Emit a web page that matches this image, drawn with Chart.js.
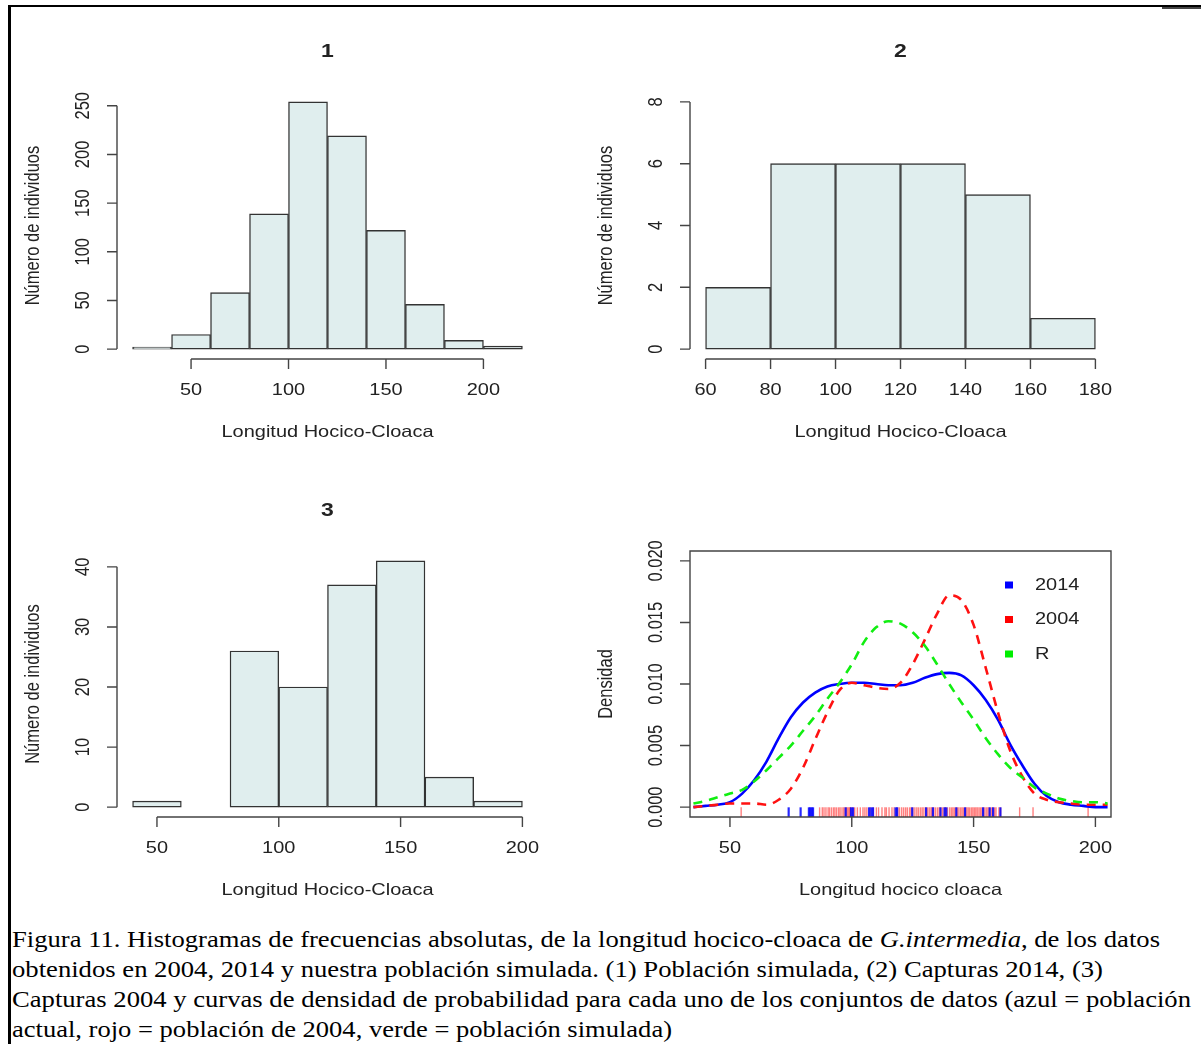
<!DOCTYPE html>
<html>
<head>
<meta charset="utf-8">
<script src="https://cdn.jsdelivr.net/npm/chart.js@4.4.0/dist/chart.umd.min.js"></script>
<style>
html, body { margin: 0; padding: 0; background: #fff; }
#page { position: relative; width: 1201px; height: 1044px; overflow: hidden; background: #fff; }
#page canvas { position: absolute; left: 0; top: 0; }
.frameTop { position: absolute; left: 8px; top: 5px; width: 1193px; height: 2px; background: #000; }
.frameTop2 { position: absolute; left: 1162px; top: 7px; width: 39px; height: 2px; background: #444; }
.frameLeft { position: absolute; left: 8px; top: 5px; width: 2.5px; height: 1039px; background: #000; }
.cap { position: absolute; left: 12px; font-family: "Liberation Serif", Tinos, "Times New Roman", Times, "Nimbus Roman", serif;
       font-size: 23px; line-height: 30px; white-space: nowrap; color: #000; transform-origin: 0 0; }
</style>
</head>
<body>
<div id="page">
  <div class="frameTop"></div>
  <div class="frameTop2"></div>
  <div class="frameLeft"></div>
  <canvas id="h1" width="1201" height="915"></canvas>
  <canvas id="h2" width="1201" height="915"></canvas>
  <canvas id="h3" width="1201" height="915"></canvas>
  <canvas id="d4" width="1201" height="915"></canvas>
  <div class="cap" id="c1" data-end="1160" style="top:925px">Figura 11. Histogramas de frecuencias absolutas, de la longitud hocico-cloaca de <i>G.intermedia</i>, de los datos</div>
  <div class="cap" id="c2" data-end="1103" style="top:955px">obtenidos en 2004, 2014 y nuestra población simulada. (1) Población simulada, (2) Capturas 2014, (3)</div>
  <div class="cap" id="c3" data-end="1191" style="top:985px">Capturas 2004 y curvas de densidad de probabilidad para cada uno de los conjuntos de datos (azul = población</div>
  <div class="cap" id="c4" data-end="672" style="top:1015px">actual, rojo = población de 2004, verde = población simulada)</div>
</div>
<script>
// ---- data ----
// 1: simulated population
var mids1 = [30, 50, 70, 90, 110, 130, 150, 170, 190, 210];
var counts1 = [2, 15, 58, 139, 254, 219, 122, 46, 9, 3];
var xTicks1 = [50, 100, 150, 200];
var yTicks1 = [0, 50, 100, 150, 200, 250];

// 2: captures 2014
var mids2 = [70, 90, 110, 130, 150, 170];
var counts2 = [2, 6, 6, 6, 5, 1];
var xTicks2 = [60, 80, 100, 120, 140, 160, 180];
var yTicks2 = [0, 2, 4, 6, 8];

// 3: captures 2004
var mids3 = [50, 70, 90, 110, 130, 150, 170, 190];
var counts3 = [1, 0, 26, 20, 37, 41, 5, 1];
var xTicks3 = [50, 100, 150, 200];
var yTicks3 = [0, 10, 20, 30, 40];

// 4: density curves
var densX = [35, 40, 45, 50, 55, 60, 65, 70, 75, 80, 85, 90, 95, 100, 105, 110, 115, 120,
             125, 130, 135, 140, 145, 150, 155, 160, 165, 170, 175, 180, 185, 190, 195, 200, 205];
var dens2014 = [0.0000, 0.0001, 0.0002, 0.0004, 0.0011, 0.0022, 0.0037, 0.0056, 0.0073, 0.0085, 0.0093, 0.0098,
                0.0100, 0.0101, 0.0101, 0.0100, 0.0099, 0.0099, 0.0101, 0.0105, 0.0108, 0.0109, 0.0107, 0.0099,
                0.0087, 0.0071, 0.0051, 0.0034, 0.0019, 0.0009, 0.0004, 0.0002, 0.0001, 0.0000, 0.0000];
var dens2004 = [0.0000, 0.0001, 0.0002, 0.0003, 0.0003, 0.0003, 0.0002, 0.0006, 0.0015, 0.0032, 0.0055, 0.0077,
                0.0095, 0.0101, 0.0099, 0.0097, 0.0096, 0.0101, 0.0116, 0.0136, 0.0157, 0.0172, 0.0168, 0.0148,
                0.0113, 0.0077, 0.0046, 0.0025, 0.0011, 0.0006, 0.0004, 0.0003, 0.0002, 0.0002, 0.0002];
var densR = [0.0003, 0.0005, 0.0008, 0.0011, 0.0014, 0.0021, 0.0030, 0.0040, 0.0050, 0.0062, 0.0074, 0.0088,
             0.0101, 0.0116, 0.0134, 0.0146, 0.0151, 0.0149, 0.0142, 0.0131, 0.0116, 0.0100, 0.0085, 0.0071,
             0.0056, 0.0043, 0.0032, 0.0024, 0.0016, 0.0011, 0.0007, 0.0005, 0.0004, 0.0004, 0.0003];
var rug2014 = [74.1, 79.0, 82.4, 83.0, 83.5, 84.1, 97.5, 99.7, 100.5, 107.1, 108.0, 108.7, 118.0, 118.6,
               124.8, 130.5, 133.3, 136.4, 138.1, 138.8, 142.9, 146.5, 153.9, 156.6, 158.0, 161.0];
var rug2004 = [54.6,
  86.8, 87.9, 88.6, 89.4, 90.3, 90.9, 91.7, 92.5, 93.1, 93.8, 94.6, 95.2, 96.0, 96.7, 97.3, 97.9, 98.4, 98.9, 99.3, 99.6,
  100.4, 101.2, 102.3, 103.5, 104.6, 105.4, 106.2, 107.5, 108.9, 110.1, 111.0, 112.4, 113.6, 114.2, 115.3, 116.5, 117.4, 118.9, 119.6,
  120.5, 121.3, 122.1, 122.8, 123.7, 124.3, 125.1, 125.9, 126.7, 127.4, 128.2, 128.9, 129.6, 130.4, 131.1, 131.8, 132.5, 133.0,
  133.7, 134.4, 135.2, 135.9, 136.5, 137.2, 137.9, 138.5, 139.3,
  140.2, 140.9, 141.5, 142.1, 142.8, 143.4, 144.0, 144.7, 145.3, 145.9, 146.6, 147.2, 147.8, 148.4, 149.1, 149.7,
  150.3, 150.9, 151.5, 152.2, 152.8, 153.4, 154.1, 154.7, 155.4, 156.0, 156.6, 157.3, 157.9, 158.6, 159.2,
  160.4, 161.1, 168.9, 174.4, 197.0];
var xTicks4 = [50, 100, 150, 200];
var yTicks4 = [0, 0.005, 0.010, 0.015, 0.020];
var legendLabels = ['2014', '2004', 'R'];
var legendColors = ['#0000ff', '#ff0000', '#00ee00'];

// ---- R-like look ----
var SX = 1.21;   // the source image is stretched sideways
var FONT = '"Liberation Sans", Arimo, Helvetica, Arial, sans-serif';
var BAR_FILL = '#e0eeee';
var BAR_EDGE = '#333333';

function stretchText(ctx, s, x, y, rot, font, align) {
	ctx.save();
	ctx.translate(x, y);
	ctx.scale(SX, 1);
	if (rot) ctx.rotate(-Math.PI / 2);
	ctx.font = font;
	ctx.textAlign = align || 'center';
	ctx.textBaseline = 'middle';
	ctx.fillText(s, 0, 0);
	ctx.restore();
}

var rAxes = {
	id: 'rAxes',
	afterDraw: function(chart) {
		var o = chart.options.plugins.rAxes;
		var ctx = chart.ctx, a = chart.chartArea;
		var xs = chart.scales.x, ys = chart.scales.y;
		var f = '16.5px ' + FONT;
		var xp = o.xTicks.map(function(v) { return xs.getPixelForValue(v); });
		var yp = o.yTicks.map(function(v) { return ys.getPixelForValue(v); });
		ctx.save();
		ctx.strokeStyle = '#444';
		ctx.lineWidth = 1.4;
		ctx.beginPath();
		ctx.moveTo(xp[0], a.bottom); ctx.lineTo(xp[xp.length - 1], a.bottom);
		xp.forEach(function(p) { ctx.moveTo(p, a.bottom); ctx.lineTo(p, a.bottom + 10); });
		ctx.moveTo(a.left, yp[0]); ctx.lineTo(a.left, yp[yp.length - 1]);
		yp.forEach(function(p) { ctx.moveTo(a.left, p); ctx.lineTo(a.left - 10, p); });
		if (o.box) ctx.rect(a.left, a.top, a.right - a.left, a.bottom - a.top);
		ctx.stroke();

		ctx.fillStyle = '#222';
		o.xTicks.forEach(function(v, i) { stretchText(ctx, String(v), xp[i], a.bottom + 31, false, f); });
		o.yTicks.forEach(function(v, i) {
			stretchText(ctx, o.yDigits ? v.toFixed(o.yDigits) : String(v), a.left - 34, yp[i], true, f);
		});
		var cx = (a.left + a.right) / 2, cy = (a.top + a.bottom) / 2;
		if (o.title) stretchText(ctx, o.title, cx, a.top - 40, false, 'bold 19px ' + FONT);
		stretchText(ctx, o.xlab, cx, a.bottom + 73, false, f);
		stretchText(ctx, o.ylab, a.left - 84, cy, true, f);

		if (o.legend) {
			legendLabels.forEach(function(lab, i) {
				var ly = a.top + 34 + i * 34.5;
				ctx.fillStyle = legendColors[i];
				ctx.fillRect(a.right - 106, ly - 3.5, 8, 7);
				ctx.fillStyle = '#222';
				stretchText(ctx, lab, a.right - 76, ly, false, f, 'left');
			});
		}
		ctx.restore();
	}
};

function baseOptions(pad, xmin, xmax, ymin, ymax, axes) {
	return {
		responsive: false,
		animation: false,
		devicePixelRatio: 1,
		events: [],
		layout: { padding: pad },
		scales: {
			x: { type: 'linear', min: xmin, max: xmax, offset: false, display: false },
			y: { type: 'linear', min: ymin, max: ymax, display: false }
		},
		plugins: { legend: { display: false }, tooltip: { enabled: false }, rAxes: axes }
	};
}

// chart area of each panel on the page: left, right, top, bottom
function pad(l, r, t, b) { return { left: l, right: 1201 - r, top: t, bottom: 915 - b }; }

function histChart(id, mids, counts, p, xmin, xmax, ymax, axes) {
	var ext = ymax * 0.04;
	return new Chart(document.getElementById(id), {
		type: 'bar',
		data: {
			datasets: [{
				data: mids.map(function(m, i) { return { x: m, y: counts[i] }; }),
				backgroundColor: BAR_FILL,
				borderColor: BAR_EDGE,
				borderWidth: 1.4,
				borderSkipped: false,
				barPercentage: 1,
				categoryPercentage: 1
			}]
		},
		options: baseOptions(p, xmin, xmax, -ext, ymax + ext, axes),
		plugins: [rAxes]
	});
}

histChart('h1', mids1, counts1, pad(117, 538, 92, 359), 12, 228, 254,
	{ xTicks: xTicks1, yTicks: yTicks1, title: '1', xlab: 'Longitud Hocico-Cloaca', ylab: 'Número de individuos' });
histChart('h2', mids2, counts2, pad(690, 1111, 92, 359), 55.2, 184.8, 8,
	{ xTicks: xTicks2, yTicks: yTicks2, title: '2', xlab: 'Longitud Hocico-Cloaca', ylab: 'Número de individuos' });
histChart('h3', mids3, counts3, pad(117, 538, 551, 817), 33.6, 206.4, 41,
	{ xTicks: xTicks3, yTicks: yTicks3, title: '3', xlab: 'Longitud Hocico-Cloaca', ylab: 'Número de individuos' });

function curve(vals, color, dash, width) {
	return {
		data: densX.map(function(x, i) { return { x: x, y: vals[i] }; }),
		borderColor: color,
		borderWidth: width,
		borderDash: dash,
		pointRadius: 0,
		fill: false,
		cubicInterpolationMode: 'monotone'
	};
}
function rug(vals, color, width) {
	return {
		data: vals.map(function(v) { return { x: v, y: -0.00042 }; }),
		showLine: false,
		pointStyle: 'line',
		pointRotation: 90,
		pointRadius: 5,
		pointBorderColor: color,
		pointBorderWidth: width,
		pointBackgroundColor: color
	};
}

new Chart(document.getElementById('d4'), {
	type: 'line',
	data: {
		datasets: [
			curve(densR, '#11ee11', [9, 7], 2.6),
			curve(dens2004, '#ff1111', [9, 7], 2.6),
			curve(dens2014, '#0000ff', [], 2.6),
			rug(rug2014, 'rgba(0,0,255,0.85)', 2.2),
			rug(rug2004, 'rgba(255,0,0,0.5)', 1.4)
		]
	},
	options: baseOptions(pad(690, 1111, 551, 817), 33.6, 206.4, -0.0008, 0.0208,
		{ xTicks: xTicks4, yTicks: yTicks4, yDigits: 3, box: true, legend: true,
		  xlab: 'Longitud hocico cloaca', ylab: 'Densidad' }),
	plugins: [rAxes]
});

// fit each caption line to its width in the figure
function fitCaption() {
	['c1', 'c2', 'c3', 'c4'].forEach(function(id) {
		var el = document.getElementById(id);
		el.style.transform = 'none';
		var w = el.getBoundingClientRect().width;
		var target = +el.getAttribute('data-end') - 12;
		if (w > 0) el.style.transform = 'scaleX(' + (target / w) + ')';
	});
}
fitCaption();
if (document.fonts && document.fonts.ready) document.fonts.ready.then(fitCaption);
</script>
</body>
</html>
